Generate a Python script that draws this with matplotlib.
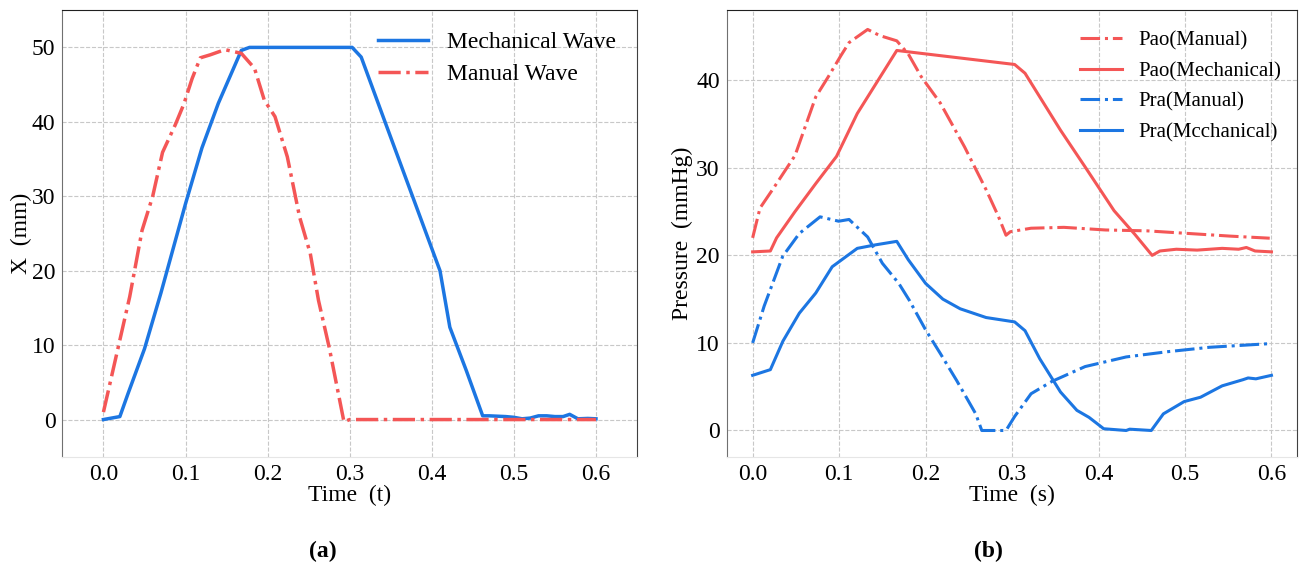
import matplotlib
matplotlib.use("Agg")
import matplotlib.pyplot as plt

plt.rcParams['font.family'] = ['Liberation Serif', 'DejaVu Serif']

BLUE = '#1c76e2'
RED = '#f45656'

# (a) displacement waves
t_mech = [0, 0.02, 0.03, 0.05, 0.07, 0.10, 0.12, 0.14, 0.168, 0.178, 0.303, 0.314,
          0.343, 0.41, 0.422, 0.442, 0.462, 0.47, 0.48, 0.49, 0.50, 0.51, 0.52,
          0.53, 0.54, 0.55, 0.56, 0.568, 0.578, 0.59, 0.6]
x_mech = [0, 0.4, 3.5, 9.5, 17, 29, 36.5, 42.5, 49.6, 50, 50, 48.7,
          40, 20, 12.4, 6.6, 0.5, 0.5, 0.45, 0.4, 0.3, 0.1, 0.2,
          0.5, 0.5, 0.4, 0.4, 0.7, 0.1, 0.15, 0.1]
t_man = [0, 0.032, 0.047, 0.06, 0.072, 0.0875, 0.098, 0.108, 0.118, 0.13, 0.148,
         0.168, 0.184, 0.196, 0.209, 0.224, 0.239, 0.252, 0.262, 0.275, 0.293,
         0.3, 0.6]
x_man = [1, 16.5, 25.4, 30, 35.9, 39.6, 42.4, 45.8, 48.6, 49, 49.7,
         49.2, 47.2, 42.9, 40.7, 35.3, 27.2, 22.3, 16, 9.7, -0.3,
         0, 0]

# (b) pressures
t_pao_man = [0, 0.0085, 0.025, 0.049, 0.073, 0.0875, 0.102, 0.1115, 0.133, 0.147,
             0.1667, 0.18, 0.195, 0.217, 0.245, 0.27, 0.284, 0.293, 0.298, 0.322,
             0.36, 0.408, 0.456, 0.504, 0.552, 0.598]
p_pao_man = [22, 25.4, 27.8, 31.4, 38.1, 40.4, 42.8, 44.3, 45.8, 45.1,
             44.5, 43, 40.4, 37.4, 32.4, 27.5, 24.5, 22.3, 22.7, 23.1,
             23.2, 22.9, 22.8, 22.5, 22.2, 21.96]
t_pao_mech = [0, 0.0205, 0.0277, 0.049, 0.073, 0.097, 0.121, 0.1667, 0.303, 0.315,
              0.356, 0.3845, 0.418, 0.442, 0.462, 0.471, 0.49, 0.514, 0.543, 0.562,
              0.571, 0.581, 0.6]
p_pao_mech = [20.4, 20.5, 22.0, 25, 28.2, 31.3, 36.2, 43.4, 41.8, 40.8,
              34.3, 30.1, 25.1, 22.4, 20, 20.5, 20.7, 20.6, 20.8, 20.7,
              20.9, 20.5, 20.4]
t_pra_man = [0, 0.0133, 0.0348, 0.054, 0.078, 0.0995, 0.1115, 0.133, 0.15, 0.169,
             0.181, 0.2, 0.217, 0.236, 0.258, 0.265, 0.293, 0.303, 0.322, 0.346,
             0.3845, 0.432, 0.48, 0.528, 0.595]
p_pra_man = [10, 14.2, 19.9, 22.5, 24.4, 23.9, 24.1, 22.1, 19.1, 16.8,
             14.9, 11.5, 8.8, 5.7, 1.9, 0, 0, 1.6, 4.2, 5.6,
             7.3, 8.4, 9.0, 9.5, 9.9]
t_pra_mech = [0, 0.0205, 0.035, 0.054, 0.073, 0.092, 0.121, 0.142, 0.1667, 0.18,
              0.2, 0.22, 0.24, 0.27, 0.303, 0.315, 0.332, 0.356, 0.375, 0.389,
              0.406, 0.432, 0.436, 0.461, 0.475, 0.499, 0.518, 0.543, 0.567, 0.573,
              0.582, 0.6]
p_pra_mech = [6.3, 6.95, 10.2, 13.4, 15.7, 18.7, 20.8, 21.2, 21.6, 19.5,
              16.8, 15.0, 13.9, 12.9, 12.4, 11.4, 8.2, 4.4, 2.3, 1.5,
              0.2, 0, 0.15, 0, 1.9, 3.3, 3.8, 5.1, 5.8, 6.0,
              5.9, 6.3]

fig = plt.figure(figsize=(13, 5.66), dpi=100)
ax1 = fig.add_axes([0.048, 0.193, 0.442, 0.789])
ax2 = fig.add_axes([0.559, 0.193, 0.439, 0.789])


def style_axes(ax):
    ax.grid(True, linestyle='--', color='#c8c8c8', linewidth=0.8)
    ax.set_axisbelow(True)
    ax.spines['bottom'].set_color('#e6e6e6')
    ax.spines['left'].set_color('#707070')
    ax.spines['right'].set_color('#404040')
    ax.spines['top'].set_color('#202020')
    ax.tick_params(length=0, labelsize=17, pad=5)
    ax.set_xticks([0.0, 0.1, 0.2, 0.3, 0.4, 0.5, 0.6])


ax1.plot(t_mech, x_mech, color=BLUE, lw=2.5, label='Mechanical Wave')
ax1.plot(t_man, x_man, color=RED, lw=2.5, ls='-.', label='Manual Wave')
style_axes(ax1)
ax1.set_xlim(-0.05, 0.65)
ax1.set_ylim(-5, 55)
ax1.set_yticks([0, 10, 20, 30, 40, 50])
ax1.set_xlabel('Time  (t)', fontsize=17, labelpad=0)
ax1.set_ylabel('X  (mm)', fontsize=17, labelpad=0)
ax1.legend(loc='upper right', bbox_to_anchor=(1.0, 1.0), frameon=False,
           fontsize=17, handlelength=2.1, labelspacing=0.45, handletextpad=0.8)

ax2.plot(t_pao_man, p_pao_man, color=RED, lw=2.2, ls='-.', label='Pao(Manual)')
ax2.plot(t_pao_mech, p_pao_mech, color=RED, lw=2.2, label='Pao(Mechanical)')
ax2.plot(t_pra_man, p_pra_man, color=BLUE, lw=2.2, ls='-.', label='Pra(Manual)')
ax2.plot(t_pra_mech, p_pra_mech, color=BLUE, lw=2.2, label='Pra(Mcchanical)')
style_axes(ax2)
ax2.set_xlim(-0.03, 0.63)
ax2.set_ylim(-3, 48)
ax2.set_yticks([0, 10, 20, 30, 40])
ax2.set_xlabel('Time  (s)', fontsize=17, labelpad=0)
ax2.set_ylabel('Pressure  (mmHg)', fontsize=17, labelpad=2)
ax2.legend(loc='upper right', bbox_to_anchor=(1.005, 0.995), frameon=False,
           fontsize=15, handlelength=2.0, labelspacing=0.52, handletextpad=0.8)

fig.text(0.248, 0.015, '(a)', fontsize=17, fontweight='bold', ha='center')
fig.text(0.760, 0.015, '(b)', fontsize=17, fontweight='bold', ha='center')

fig.savefig('out.png', dpi=100)
